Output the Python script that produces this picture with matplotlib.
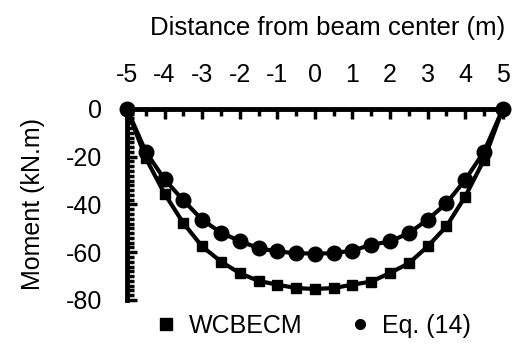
import matplotlib.pyplot as plt
from matplotlib.ticker import MultipleLocator

plt.rcParams['font.family'] = ['Liberation Sans', 'DejaVu Sans']
plt.rcParams['axes.unicode_minus'] = False

x = [-5, -4.5, -4, -3.5, -3, -2.5, -2, -1.5, -1, -0.5, 0,
     0.5, 1, 1.5, 2, 2.5, 3, 3.5, 4, 4.5, 5]
wcbecm = [0, -20.6, -35.5, -47.8, -57.6, -63.9, -68.8, -72.0, -73.6, -75.0, -75.4,
          -75.0, -73.6, -72.3, -68.7, -64.6, -57.6, -49.2, -36.7, -21.3, 0]
eq14 = [0, -17.9, -29.5, -38.3, -46.4, -51.8, -55.3, -58.3, -59.7, -60.4, -60.6,
        -60.4, -59.3, -56.9, -55.5, -52.0, -46.4, -39.5, -29.7, -17.9, 0]

fig = plt.figure(figsize=(5.12, 3.48), dpi=100)
ax = fig.add_axes([0.248, 0.138, 0.734, 0.549])

ax.plot(x, wcbecm, color='black', lw=3, marker='s', ms=7.5,
        label='WCBECM', clip_on=False, zorder=3)
ax.plot(x, eq14, color='black', lw=3, marker='o', ms=10.5,
        label='Eq. (14)', clip_on=False, zorder=3)

ax.set_xlim(-5, 5)
ax.set_ylim(-80, 0)
ax.xaxis.tick_top()
ax.xaxis.set_label_position('top')
ax.set_xticks(range(-5, 6))
ax.xaxis.set_minor_locator(MultipleLocator(0.5))
ax.set_yticks([0, -20, -40, -60, -80])
ax.yaxis.set_minor_locator(MultipleLocator(2))

for s in ['bottom', 'right']:
    ax.spines[s].set_visible(False)
for s in ['top', 'left']:
    ax.spines[s].set_linewidth(3.5)

ax.tick_params(which='both', direction='in', width=2.5, labelsize=18)
ax.tick_params(which='major', length=7)
ax.tick_params(which='minor', length=5)
ax.tick_params(axis='x', which='both', top=True, bottom=False, pad=16)
ax.tick_params(axis='y', which='both', pad=18)

ax.set_xlabel('Distance from beam center (m)', fontsize=18.5, labelpad=20)
ax.xaxis.label.set_x(0.535)
ax.set_ylabel('Moment (kN.m)', fontsize=18, labelpad=15)

ax.legend(loc='upper center', bbox_to_anchor=(0.5, -0.02), ncol=2, frameon=False,
          fontsize=18, handlelength=0.6, handletextpad=0.6, columnspacing=2.0,
          borderaxespad=0)
leg = ax.get_legend()
for h, ms in zip(leg.legend_handles, [8, 7]):
    h.set_linestyle('none')
    h.set_markersize(ms)

fig.savefig('out.png', dpi=100)
